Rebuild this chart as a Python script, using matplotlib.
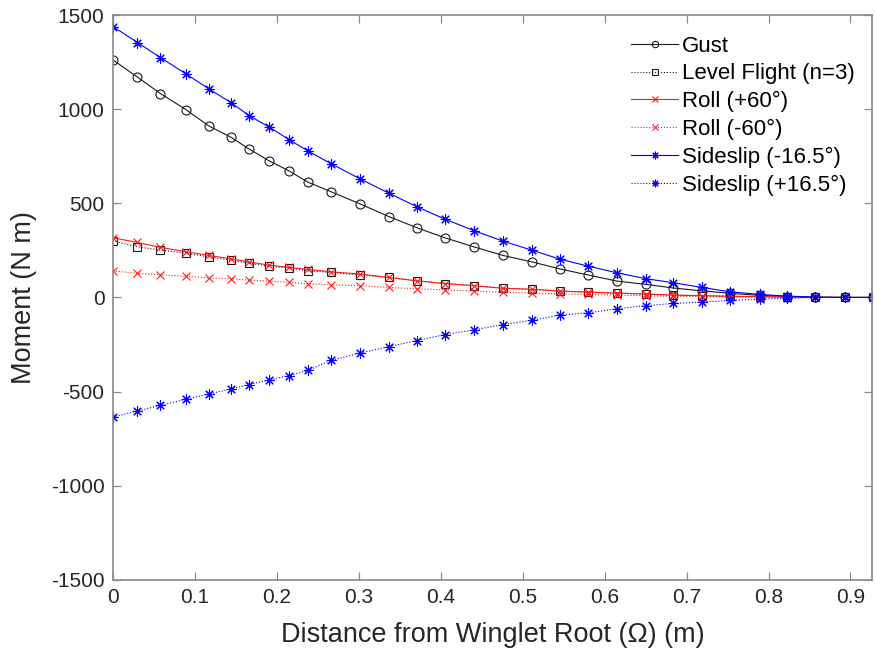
import numpy as np
import matplotlib
matplotlib.use("Agg")
import matplotlib.pyplot as plt

plt.rcParams['font.family'] = ['Liberation Sans', 'DejaVu Sans']
plt.rcParams['axes.unicode_minus'] = False

# distance along winglet (m)
dist = [0.0, 0.030, 0.058, 0.089, 0.117, 0.144, 0.166, 0.190, 0.215, 0.238,
        0.266, 0.302, 0.337, 0.371, 0.405, 0.441, 0.476, 0.512, 0.545, 0.580,
        0.615, 0.651, 0.684, 0.719, 0.753, 0.789, 0.823, 0.857, 0.893, 0.927]

gust = [1262, 1170, 1083, 998, 911, 851, 789, 727, 672, 612,
        562, 496, 429, 370, 317, 268, 223, 188, 152, 119,
        87, 69, 50, 35, 22, 11, 5, 1, 0, 0]

level_flight = [300, 269, 252, 234, 216, 198, 182, 166, 156, 141,
                133, 119, 106, 88, 74, 62, 49, 43, 34, 28,
                23, 18, 13, 10, 7, 4, 2, 1, 0, 0]

roll_pos = [317, 292, 266, 243, 223, 205, 189, 172, 160, 149,
            136, 124, 106, 88, 74, 62, 49, 43, 34, 28,
            23, 18, 12, 9, 6, 4, 2, 1, 0, 0]

roll_neg = [141, 128, 120, 113, 104, 99, 92, 87, 80, 72,
            67, 62, 53, 46, 40, 34, 28, 23, 19, 16,
            12, 9, 6, 4, 2, 1, 0.5, 0, 0, 0]

sideslip_neg = [1439, 1354, 1274, 1188, 1108, 1035, 966, 907, 838, 778,
                711, 629, 553, 482, 416, 354, 299, 250, 204, 166,
                131, 99, 78, 53, 30, 16, 7, 2, 0, 0]

sideslip_pos = [-635, -603, -573, -541, -513, -486, -463, -438, -415, -388,
                -334, -295, -261, -229, -197, -172, -144, -121, -94, -82,
                -60, -43, -32, -25, -16, -9, -4, 0, 0, 0]

labels = ['Gust', 'Level Flight (n=3)', 'Roll (+60\u00b0)', 'Roll (-60\u00b0)',
          'Sideslip (-16.5\u00b0)', 'Sideslip (+16.5\u00b0)']

# matlab style asterisk (plus + cross)
ast = [(-1, 0), (1, 0), (0, 0), (0, -1), (0, 1), (0, 0),
       (-0.7, -0.7), (0.7, 0.7), (0, 0), (-0.7, 0.7), (0.7, -0.7), (0, 0)]

fig = plt.figure(figsize=(8.75, 6.53), dpi=100)
ax = fig.add_axes([0.129, 0.112, 0.868, 0.865])

lw = 0.8
blk, red, blu = '#1a1a1a', '#ff1a1a', '#0000ff'
ax.plot(dist, gust, '-', color=blk, lw=lw, marker='o', ms=6.5, mfc='none', mew=0.8, label=labels[0])
ax.plot(dist, level_flight, ':', color=blk, lw=lw, marker='s', ms=5.5, mfc='none', mew=0.8, label=labels[1])
ax.plot(dist, roll_pos, '-', color=red, lw=lw, marker='x', ms=6, mew=0.8, label=labels[2])
ax.plot(dist, roll_neg, ':', color=red, lw=lw, marker='x', ms=6, mew=0.8, label=labels[3])
ax.plot(dist, sideslip_neg, '-', color=blu, lw=lw, marker=ast, ms=7, mew=0.8, label=labels[4])
ax.plot(dist, sideslip_pos, ':', color=blu, lw=lw, marker=ast, ms=7, mew=0.8, label=labels[5])

ax.set_xlim(0, 0.9267)
ax.set_ylim(-1500, 1500)
ax.set_xticks(np.arange(0, 0.91, 0.1))
ax.set_xticklabels(['0', '0.1', '0.2', '0.3', '0.4', '0.5', '0.6', '0.7', '0.8', '0.9'])
ax.set_yticks(np.arange(-1500, 1501, 500))

for s in ax.spines.values():
    s.set_color('#8a8a8a')
    s.set_linewidth(1.2)
ax.tick_params(direction='in', length=6, width=0.9, color='#8a8a8a',
               top=True, right=True, labelsize=15, labelcolor='#262626', pad=6)

ax.set_xlabel('Distance from Winglet Root (\u03a9) (m)', fontsize=19.5, color='#262626')
ax.set_ylabel('Moment (N m)', fontsize=19.5, color='#262626')
ax.xaxis.set_label_coords(0.5, -0.075)
ax.yaxis.set_label_coords(-0.1, 0.5)

leg = ax.legend(loc='upper right', frameon=False, fontsize=16, handlelength=2.15,
                handletextpad=0.15, labelspacing=0.3, markerscale=0.7,
                borderaxespad=0.2, bbox_to_anchor=(0.994, 0.987))

fig.savefig('out.png', dpi=100)
